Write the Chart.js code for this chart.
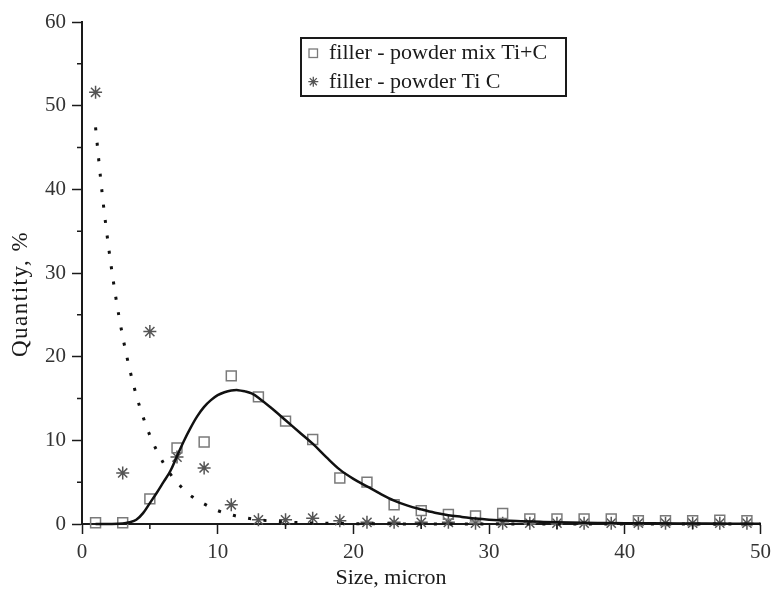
<!DOCTYPE html>
<html>
<head>
<meta charset="utf-8">
<title>Particle size distribution of fillers</title>
<script src="https://cdn.jsdelivr.net/npm/chart.js@4.4.1/dist/chart.umd.min.js"></script>
<style>
  html, body { margin: 0; padding: 0; background: #ffffff; }
  #wrap { width: 777px; height: 595px; }
</style>
</head>
<body>
<div id="wrap"><canvas id="chart" width="777" height="595"></canvas></div>
<script>
// Measured size classes, micron
const sizes = [1, 3, 5, 7, 9, 11, 13, 15, 17, 19, 21, 23, 25, 27, 29, 31, 33, 35, 37, 39, 41, 43, 45, 47, 49];

// Quantity, % — filler: powder mix Ti+C
const mixTiC = [0.15, 0.15, 3.0, 9.1, 9.8, 17.7, 15.2, 12.3, 10.1, 5.5, 5.0, 2.3, 1.6, 1.15, 0.95, 1.25,
                0.6, 0.6, 0.6, 0.6, 0.4, 0.4, 0.4, 0.45, 0.4];

// Quantity, % — filler: powder TiC
const powderTiC = [51.6, 6.1, 23.0, 8.0, 6.7, 2.3, 0.5, 0.5, 0.7, 0.4, 0.2, 0.2, 0.2, 0.2, 0.1, 0.1,
                   0.1, 0.1, 0.1, 0.1, 0.1, 0.1, 0.1, 0.1, 0.1];

// Smoothed distribution curve for the Ti+C mix
const mixCurveX = [1, 2, 3, 3.5, 4, 4.5, 5, 5.5, 6, 6.5, 7, 7.5, 8, 8.5, 9, 9.5, 10, 10.5, 11, 11.5, 12, 12.5, 13,
                   14, 15, 16, 17, 18, 19, 20, 21, 22, 23, 24, 25, 26, 27, 28, 29, 30, 32, 34, 36, 38, 40, 44, 48, 50];
const mixCurveY = [0, 0, 0.05, 0.2, 0.5, 1.3, 2.5, 3.7, 5.0, 6.3, 8.1, 9.9, 11.5, 12.9, 14.0, 14.8, 15.4, 15.75, 15.95, 16.0, 15.85, 15.6, 15.1,
                   13.8, 12.4, 11.0, 9.6, 8.0, 6.5, 5.4, 4.5, 3.6, 2.8, 2.2, 1.75, 1.35, 1.05, 0.85, 0.65, 0.52, 0.35, 0.25, 0.18, 0.13, 0.1, 0.06, 0.04, 0.03];

// Smoothed decay curve for the TiC powder
const ticCurveX = [1, 1.5, 2, 2.5, 3, 3.5, 4, 4.5, 5, 5.5, 6, 6.5, 7, 7.5, 8, 9, 10, 11, 12, 13, 14, 15, 16, 18, 20, 25, 30, 35, 40, 45, 50];
const ticCurveY = [47.4, 39.3, 32.6, 27.0, 22.4, 18.6, 15.4, 12.8, 10.6, 8.8, 7.3, 6.0, 5.0, 4.1, 3.4, 2.4, 1.6, 1.1, 0.75, 0.5, 0.35, 0.24, 0.17, 0.08, 0.04, 0.01, 0, 0, 0, 0, 0];

// Axis ticks
const xMajorTicks = [0, 10, 20, 30, 40, 50];
const xMinorTicks = [5, 15, 25, 35, 45];
const yMajorTicks = [0, 10, 20, 30, 40, 50, 60];
const yMinorTicks = [5, 15, 25, 35, 45, 55];

// Texts
const legendLabels = ['filler - powder mix Ti+C', 'filler - powder Ti C'];
const xTitle = 'Size, micron';
const yTitle = 'Quantity, %';

const pairs = (xs, ys) => xs.map((x, i) => ({ x: x, y: ys[i] }));

const SERIF = "'Liberation Serif', 'Times New Roman', serif";
const INK = '#1a1a1a';

// Minor ticks plus hand-placed axis titles
const axisExtras = {
  id: 'axisExtras',
  afterDraw(chart) {
    const ctx = chart.ctx;
    const xs = chart.scales.x, ys = chart.scales.y;
    const area = chart.chartArea;
    ctx.save();
    ctx.strokeStyle = INK;
    ctx.lineWidth = 1.5;
    ctx.beginPath();
    xMinorTicks.forEach(v => {
      const px = xs.getPixelForValue(v);
      ctx.moveTo(px, area.bottom);
      ctx.lineTo(px, area.bottom + 5);
    });
    yMinorTicks.forEach(v => {
      const py = ys.getPixelForValue(v);
      ctx.moveTo(area.left, py);
      ctx.lineTo(area.left - 5, py);
    });
    ctx.stroke();

    ctx.fillStyle = INK;
    ctx.font = '22px ' + SERIF;
    ctx.textAlign = 'center';
    ctx.textBaseline = 'middle';
    ctx.fillText(xTitle, 391, 578);
    ctx.translate(21, 294);
    ctx.rotate(-Math.PI / 2);
    ctx.font = '23px ' + SERIF;
    if ('letterSpacing' in ctx) ctx.letterSpacing = '1.5px';
    ctx.fillText(yTitle, 0, 0);
    ctx.restore();
  }
};

// Boxed legend inside the plot
const boxLegend = {
  id: 'boxLegend',
  afterDraw(chart) {
    const ctx = chart.ctx;
    const left = 301, top = 38, w = 265, h = 58;
    ctx.save();
    ctx.fillStyle = '#ffffff';
    ctx.fillRect(left, top, w, h);
    ctx.strokeStyle = INK;
    ctx.lineWidth = 2;
    ctx.strokeRect(left, top, w, h);

    // square marker
    ctx.strokeStyle = '#7a7a7a';
    ctx.lineWidth = 1.3;
    ctx.strokeRect(309, 49, 8.5, 8.5);
    // star marker
    const cx = 313.3, cy = 81.7, r = 5;
    ctx.strokeStyle = '#555555';
    ctx.lineWidth = 1.3;
    ctx.beginPath();
    for (let k = 0; k < 4; k++) {
      const a = k * Math.PI / 4;
      ctx.moveTo(cx - r * Math.cos(a), cy - r * Math.sin(a));
      ctx.lineTo(cx + r * Math.cos(a), cy + r * Math.sin(a));
    }
    ctx.stroke();

    ctx.fillStyle = INK;
    ctx.font = '22px ' + SERIF;
    ctx.textAlign = 'left';
    ctx.textBaseline = 'middle';
    ctx.fillText(legendLabels[0], 329, 53);
    ctx.fillText(legendLabels[1], 329, 82);
    ctx.restore();
  }
};

new Chart(document.getElementById('chart'), {
  type: 'scatter',
  data: {
    datasets: [
      {
        label: 'mix Ti+C fit',
        data: pairs(mixCurveX, mixCurveY),
        showLine: true,
        borderColor: '#111111',
        borderWidth: 2.5,
        pointRadius: 0,
        tension: 0.35,
        fill: false
      },
      {
        label: 'TiC fit',
        data: pairs(ticCurveX, ticCurveY),
        showLine: true,
        borderColor: '#111111',
        borderWidth: 3,
        borderDash: [3, 12.5],
        borderCapStyle: 'butt',
        pointRadius: 0,
        cubicInterpolationMode: 'monotone',
        fill: false
      },
      {
        label: legendLabels[0],
        data: pairs(sizes, mixTiC),
        pointStyle: 'rect',
        pointRadius: 7,
        borderColor: '#7a7a7a',
        borderWidth: 1.5,
        backgroundColor: 'rgba(255,255,255,0)'
      },
      {
        label: legendLabels[1],
        data: pairs(sizes, powderTiC),
        pointStyle: 'star',
        pointRadius: 6.5,
        borderColor: '#555555',
        borderWidth: 1.5,
        backgroundColor: '#555555'
      }
    ]
  },
  options: {
    responsive: false,
    animation: false,
    events: [],
    clip: false,
    layout: { padding: { left: 0, right: 13, top: 22, bottom: 0 } },
    plugins: {
      legend: { display: false },
      tooltip: { enabled: false }
    },
    scales: {
      x: {
        type: 'linear',
        min: 0,
        max: 50,
        afterBuildTicks: s => { s.ticks = xMajorTicks.map(v => ({ value: v })); },
        afterFit: s => { s.height = 71; },
        ticks: {
          color: '#333333',
          font: { family: SERIF, size: 21 },
          padding: 6,
          maxRotation: 0
        },
        grid: { drawOnChartArea: false, drawTicks: true, tickLength: 10, tickColor: INK, tickWidth: 1.5 },
        border: { display: true, color: INK, width: 2 }
      },
      y: {
        type: 'linear',
        min: 0,
        max: 60,
        afterBuildTicks: s => { s.ticks = yMajorTicks.map(v => ({ value: v })); },
        afterFit: s => { s.width = 82; },
        ticks: {
          color: '#333333',
          font: { family: SERIF, size: 21 },
          padding: 6
        },
        grid: { drawOnChartArea: false, drawTicks: true, tickLength: 10, tickColor: INK, tickWidth: 1.5 },
        border: { display: true, color: INK, width: 2 }
      }
    }
  },
  plugins: [axisExtras, boxLegend]
});
</script>
</body>
</html>
